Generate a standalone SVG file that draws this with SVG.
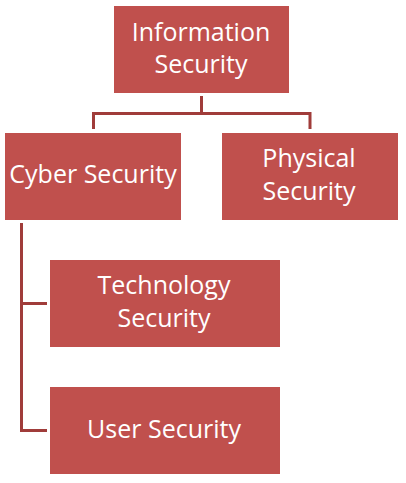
<svg xmlns="http://www.w3.org/2000/svg" width="406" height="483" viewBox="0 0 406 483">
<style>
.box{fill:#C0504D}
.lbl{font-family:"Open Sans","Liberation Sans",sans-serif;font-size:25px;fill:#FFFFFF;text-anchor:middle}
.conn{fill:none;stroke:#A03C3A;stroke-width:3}
</style>
<rect width="406" height="483" fill="#FFFFFF"/>
<g id="connectors">
<path class="conn" d="M201.5,96 V113.5 M93.5,129 V113.5 H310 V129"/>
<path class="conn" d="M21.5,223 V430.5 H47 M21.5,303.5 H47"/>
</g>
<g id="node-information">
<rect class="box" x="114" y="6" width="175" height="87"/>
<text class="lbl" x="201" y="41">Information</text>
<text class="lbl" x="201" y="73">Security</text>
</g>
<g id="node-cyber">
<rect class="box" x="5" y="133" width="176" height="87"/>
<text class="lbl" x="93" y="183">Cyber Security</text>
</g>
<g id="node-physical">
<rect class="box" x="222" y="133" width="176" height="87"/>
<text class="lbl" x="309" y="167">Physical</text>
<text class="lbl" x="309" y="199.5">Security</text>
</g>
<g id="node-technology">
<rect class="box" x="50" y="260" width="230" height="87"/>
<text class="lbl" x="164" y="294">Technology</text>
<text class="lbl" x="164" y="327">Security</text>
</g>
<g id="node-user">
<rect class="box" x="50" y="387" width="230" height="87"/>
<text class="lbl" x="164" y="438">User Security</text>
</g>
</svg>
